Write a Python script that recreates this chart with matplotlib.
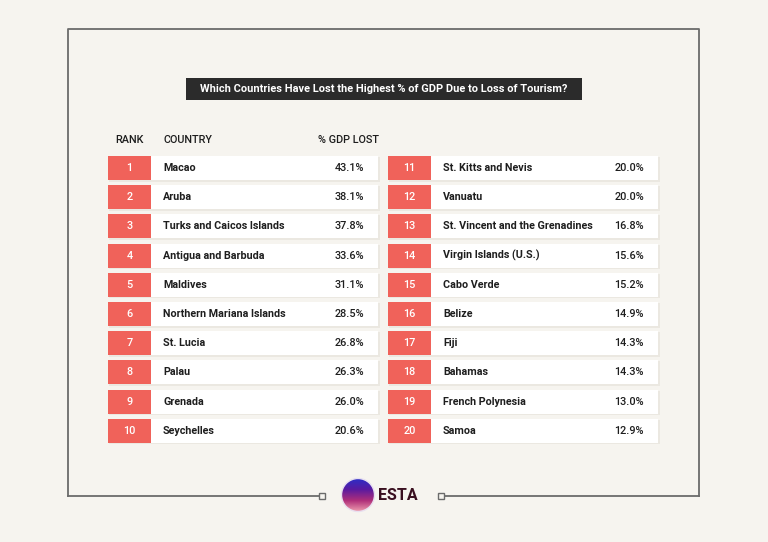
import matplotlib
matplotlib.use("Agg")
from matplotlib import pyplot as plt
from matplotlib.patches import Rectangle, Circle
import numpy as np

plt.rcParams['font.family'] = ['Roboto', 'DejaVu Sans']

# data
ranks = list(range(1, 21))
countries = ["Macao", "Aruba", "Turks and Caicos Islands", "Antigua and Barbuda",
             "Maldives", "Northern Mariana Islands", "St. Lucia", "Palau",
             "Grenada", "Seychelles",
             "St. Kitts and Nevis", "Vanuatu", "St. Vincent and the Grenadines",
             "Virgin Islands (U.S.)", "Cabo Verde", "Belize", "Fiji", "Bahamas",
             "French Polynesia", "Samoa"]
gdp_lost = [43.1, 38.1, 37.8, 33.6, 31.1, 28.5, 26.8, 26.3, 26.0, 20.6,
            20.0, 20.0, 16.8, 15.6, 15.2, 14.9, 14.3, 14.3, 13.0, 12.9]
title = "Which Countries Have Lost the Highest % of GDP Due to Loss of Tourism?"
headers = ["RANK", "COUNTRY", "% GDP LOST"]

bg = "#f6f4ef"
red = "#f0625a"
dark = "#2b2b2b"
txt = "#1e1e1e"

fig = plt.figure(figsize=(7.68, 5.42), dpi=100, facecolor=bg)
ax = fig.add_axes([0, 0, 1, 1])
ax.set_xlim(0, 768)
ax.set_ylim(542, 0)
ax.axis("off")
ax.set_facecolor(bg)

# frame
fc = "#6b6b6b"
ax.plot([68, 68, 699, 699], [496, 29, 29, 496], color=fc, lw=1.3)
ax.plot([68, 320], [496, 496], color=fc, lw=1.3)
ax.plot([444, 699], [496, 496], color=fc, lw=1.3)
for sx in [322, 441]:
    ax.add_patch(Rectangle((sx - 3, 493), 6, 6, facecolor=bg, edgecolor=fc, lw=1, zorder=3))

# title box
ax.add_patch(Rectangle((186, 78), 396, 22, facecolor=dark, edgecolor="none"))
ax.text(384, 89.5, title, color="white", fontsize=7.95, fontweight="bold",
        ha="center", va="center")

# headers
ax.text(129, 140, headers[0], fontsize=7.8, fontweight=500, color=txt, ha="center", va="center")
ax.text(163, 140, headers[1], fontsize=7.8, fontweight=500, color=txt, ha="left", va="center")
ax.text(379, 140, headers[2], fontsize=7.8, fontweight=500, color=txt, ha="right", va="center")

# rows
y0 = 168
dy = 29.2
for i, (r, c, v) in enumerate(zip(ranks, countries, gdp_lost)):
    col = i // 10
    row = i % 10
    xo = 280 * col
    yc = y0 + row * dy
    ax.add_patch(Rectangle((109 + xo, yc - 11), 271, 24.5, facecolor="#ebe8e1",
                           edgecolor="none", zorder=1))
    ax.add_patch(Rectangle((151 + xo, yc - 12), 227, 24, facecolor="white",
                           edgecolor="none", zorder=2))
    ax.add_patch(Rectangle((108 + xo, yc - 12), 43, 24, facecolor=red,
                           edgecolor="none", zorder=2))
    ax.text(129.5 + xo, yc, str(r), color="white", fontsize=7.8, fontweight=500,
            ha="center", va="center", zorder=3)
    ax.text(163 + xo, yc, c, color=txt, fontsize=7.75, fontweight="bold",
            ha="left", va="center", zorder=3)
    ax.text(364 + xo, yc, "%.1f%%" % v, color=txt, fontsize=7.8, fontweight=500,
            ha="right", va="center", zorder=3)

# logo
grad = np.linspace(0, 1, 100).reshape(-1, 1)
cmap = matplotlib.colors.LinearSegmentedColormap.from_list(
    "logo", ["#2a2fc8", "#5a1aa0", "#b0307a", "#f0a0b0"])
im = ax.imshow(grad, cmap=cmap, extent=(341, 375, 512, 478), aspect="auto", zorder=4)
clip = Circle((358, 495), 16.5, transform=ax.transData)
im.set_clip_path(clip)
ax.add_patch(Circle((358, 495), 16.5, facecolor="none", edgecolor="#e8e0f0", lw=1, zorder=5))
ax.set_xlim(0, 768)
ax.set_ylim(542, 0)
ax.text(378, 495, "ESTA", color="#3a1020", fontsize=11.5, fontweight="bold",
        ha="left", va="center", zorder=4)

fig.savefig("out.png", dpi=100, facecolor=bg)
